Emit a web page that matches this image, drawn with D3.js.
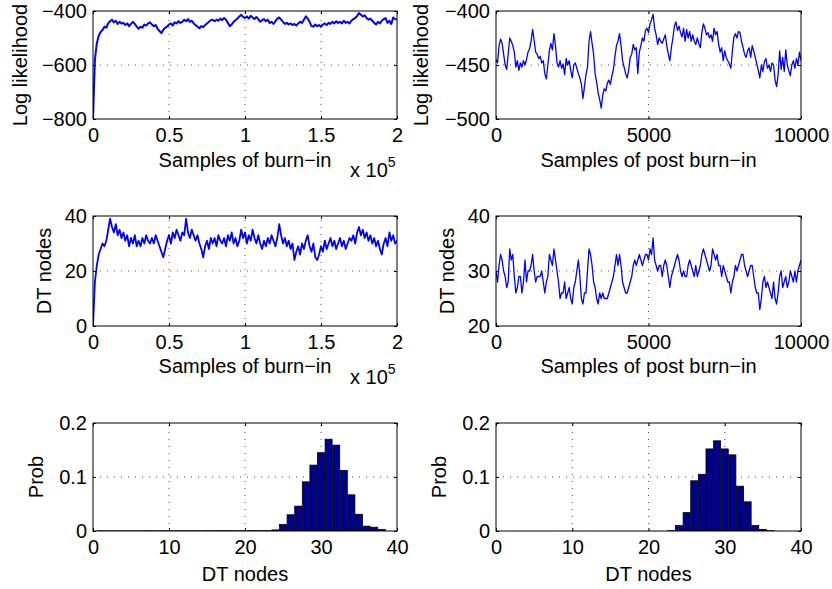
<!DOCTYPE html>
<html><head><meta charset="utf-8">
<script src="https://cdn.jsdelivr.net/npm/d3@7"></script>
<style>
body{margin:0;background:#fff}
svg text{font-family:"Liberation Sans",Arial,Helvetica,sans-serif;fill:#000}
</style>
</head><body>
<svg id="chart" width="832" height="589"></svg>
<script>
// ---------------- DATA ----------------
const burnStep = 1250;   // samples between stored burn-in points
const burnLogLik = [
-800,-580,-520,-492,-478,-470,-458,-462,
-446,-438,-432,-442,-436,-448,-440,-446,
-444,-452,-446,-456,-448,-440,-448,-458,
-466,-458,-462,-450,-454,-446,-442,-450,
-456,-452,-466,-474,-482,-470,-462,-458,
-450,-446,-454,-442,-446,-438,-444,-440,
-432,-438,-430,-440,-436,-446,-452,-458,
-464,-456,-460,-452,-446,-440,-434,-432,
-438,-432,-436,-428,-434,-426,-432,-444,
-456,-450,-440,-434,-428,-420,-414,-422,
-426,-420,-428,-418,-424,-430,-422,-430,
-440,-434,-430,-438,-432,-444,-440,-448,
-438,-428,-424,-432,-440,-448,-444,-450,
-446,-452,-448,-454,-446,-440,-444,-432,
-420,-428,-440,-456,-458,-450,-456,-452,
-458,-450,-446,-452,-444,-448,-440,-446,
-438,-444,-440,-446,-436,-444,-440,-446,
-436,-430,-426,-418,-408,-414,-420,-416,
-426,-432,-428,-436,-444,-450,-440,-446,
-436,-430,-426,-444,-436,-448,-424,-430,-432
];
const burnNodes = [
0,16,22,26,28,30,29,31,
35,39,36,34,37,33,35,32,
34,31,33,29,32,30,33,29,
31,29,32,30,33,31,30,32,
30,33,31,29,27,25,28,31,
33,30,34,32,35,33,31,34,
33,39,34,32,35,33,31,33,
30,28,25,29,31,28,32,30,
32,29,33,31,30,32,29,33,
31,34,30,32,29,31,35,32,
34,30,33,31,35,32,30,33,
30,28,31,29,32,30,33,31,
29,32,37,33,30,32,29,31,
28,30,24,27,29,26,30,28,
31,33,29,27,30,25,24,26,
29,27,31,28,30,32,29,31,
28,30,32,29,31,28,30,32,
31,33,30,34,36,33,35,32,
34,31,33,30,32,29,31,28,
26,30,32,29,34,31,33,30,31
];
const postStep = 50;     // samples between stored post burn-in points
const postLogLik = [
-445,-448,-432,-426,-430,-440,-450,-454,-440,-425,
-428,-432,-438,-452,-446,-455,-448,-452,-446,-450,
-445,-438,-435,-428,-417,-427,-438,-440,-444,-442,
-448,-446,-458,-463,-450,-437,-430,-436,-421,-432,
-448,-452,-446,-453,-449,-459,-444,-450,-446,-455,
-462,-450,-448,-453,-458,-462,-468,-481,-470,-459,
-452,-428,-419,-430,-440,-458,-466,-476,-482,-490,
-478,-472,-474,-467,-464,-468,-460,-454,-442,-432,
-428,-421,-432,-446,-452,-458,-462,-455,-443,-440,
-431,-436,-434,-458,-438,-432,-425,-428,-418,-416,
-420,-412,-408,-403,-416,-422,-431,-425,-428,-430,
-426,-422,-432,-440,-446,-434,-425,-414,-410,-418,
-414,-420,-424,-416,-428,-417,-425,-419,-428,-422,
-428,-431,-425,-430,-434,-420,-412,-416,-422,-420,
-425,-422,-428,-416,-422,-419,-431,-438,-434,-446,
-437,-443,-446,-449,-453,-437,-424,-421,-425,-419,
-420,-428,-434,-440,-443,-437,-434,-443,-432,-437,
-443,-449,-455,-462,-450,-456,-447,-444,-453,-450,
-456,-448,-450,-464,-470,-459,-437,-454,-443,-456,
-436,-450,-455,-460,-450,-446,-453,-444,-450,-438,
-446
];
const postNodes = [
30,28,31,33,32,30,29,27,28,34,
32,33,29,26,27,29,29,26,28,32,
28,30,30,31,33,30,28,29,29,29,
30,28,26,28,29,33,32,31,34,32,
30,28,25,26,26,28,25,26,27,25,
24,27,28,30,32,29,25,24,26,26,
30,34,33,31,28,27,25,24,26,25,
26,25,25,25,26,27,28,29,31,33,
31,33,31,28,27,26,26,27,28,29,
31,32,31,32,33,32,31,32,33,33,
32,34,33,36,32,31,30,31,31,29,
31,32,31,29,27,29,30,31,32,33,
32,30,29,30,29,29,31,32,31,30,
29,31,29,30,31,33,34,33,32,31,
30,31,34,33,32,33,31,31,29,31,
30,29,28,28,26,28,29,31,30,31,
32,33,33,31,30,29,30,31,31,29,
27,26,26,23,25,28,29,27,28,27,
26,25,28,25,24,26,29,30,27,28,
29,27,28,30,29,28,30,28,30,31,
32
];
const histBinsA = [1,2,3,4,5,6,7,8,9,10,11,12,13,14,15,16,17,18,19,20,21,22,23,24,25,26,27,28,29,30,31,32,33,34,35,36,37,38];
const histProbA = [0.0003,0.0002,0.0002,0.0002,0.0002,0.0002,0.0003,0.0002,0.0003,0.0004,0.0003,0.0003,0.0003,0.0003,0.0004,0.0004,0.0005,0.0004,0.0004,0.0005,0.0006,0.0005,0.0006,
                   0.002,0.012,0.030,0.046,0.091,0.122,0.145,0.170,0.159,0.112,0.067,0.031,0.009,0.007,0.003];
const histBinsB = [20,21,22,23,24,25,26,27,28,29,30,31,32,33,34,35,36,37];
const histProbB = [0,0,0,0.0005,0.010,0.034,0.093,0.105,0.152,0.167,0.152,0.141,0.083,0.054,0.010,0.003,0.0005,0];

const burnTicks = [0,50000,100000,150000,200000];
const postTicks = [0,5000,10000];
const llBurnTicks = [-800,-600,-400];
const llPostTicks = [-500,-450,-400];
const nodesBurnTicks = [0,20,40];
const nodesPostTicks = [20,30,40];
const histXTicks = [0,10,20,30,40];
const histYTicks = [0,0.1,0.2];

// ---------------- LAYOUT ----------------
const svg = d3.select("#chart");
const cols = [{l:93,r:397},{l:496,r:801}];
const rows = [{t:11,b:119},{t:216,b:326},{t:423,b:531}];
const FONT = 20, LFONT = 20;
let clipId = 0;

function panel(o){
  const c = cols[o.col], r = rows[o.row];
  const x = d3.scaleLinear().domain(o.xDomain).range([c.l,c.r]);
  const y = d3.scaleLinear().domain(o.yDomain).range([r.b,r.t]);
  const g = svg.append("g");
  const id = "clip"+(clipId++);
  svg.append("clipPath").attr("id",id).append("rect")
    .attr("x",c.l).attr("y",r.t).attr("width",c.r-c.l).attr("height",r.b-r.t);

  // grid (dotted)
  const grid = g.append("g").attr("stroke","#000").attr("stroke-width",0.8)
     .attr("stroke-dasharray","1,6").attr("opacity",0.85);
  o.xTicks.forEach(t=>{ if(x(t)>c.l+1 && x(t)<c.r-1)
     grid.append("line").attr("x1",x(t)).attr("x2",x(t)).attr("y1",r.b).attr("y2",r.t);});
  o.yTicks.forEach(t=>{ if(y(t)<r.b-1 && y(t)>r.t+1)
     grid.append("line").attr("x1",c.l).attr("x2",c.r).attr("y1",y(t)).attr("y2",y(t));});

  const dg = g.append("g").attr("clip-path","url(#"+id+")");
  if(o.type==="line"){
    const line = d3.line().x((d,i)=>x(i*o.step)).y(d=>y(d));
    dg.append("path").datum(o.values).attr("d",line)
      .attr("fill","none").attr("stroke","#0000ff").attr("stroke-width",o.sw)
      .attr("stroke-linejoin","round");
  } else {
    dg.selectAll("rect").data(o.bins).join("rect")
      .attr("x",b=>x(b-0.46)).attr("width",b=>x(b+0.46)-x(b-0.46))
      .attr("y",(b,i)=>y(o.values[i])).attr("height",(b,i)=>y(0)-y(o.values[i]))
      .attr("fill","#00008f").attr("stroke","#000").attr("stroke-width",0.8);
  }

  // axes
  const ax = d3.axisBottom(x).tickValues(o.xTicks).tickSize(-3).tickPadding(9).tickFormat(o.xFmt);
  const axg = g.append("g").attr("transform",`translate(0,${r.b})`).call(ax);
  const axt = d3.axisTop(x).tickValues(o.xTicks).tickSize(-3).tickFormat("");
  const axtg = g.append("g").attr("transform",`translate(0,${r.t})`).call(axt);
  const ay = d3.axisLeft(y).tickValues(o.yTicks).tickSize(-3).tickPadding(6).tickFormat(o.yFmt);
  const ayg = g.append("g").attr("transform",`translate(${c.l},0)`).call(ay);
  const ayr = d3.axisRight(y).tickValues(o.yTicks).tickSize(-3).tickFormat("");
  const ayrg = g.append("g").attr("transform",`translate(${c.r},0)`).call(ayr);
  [axg,axtg,ayg,ayrg].forEach(a=>{
    a.attr("font-size",FONT).attr("font-family",null);
    a.select(".domain").remove();
    a.selectAll("line").attr("stroke","#000");
  });

  // frame
  g.append("rect").attr("x",c.l).attr("y",r.t).attr("width",c.r-c.l).attr("height",r.b-r.t)
    .attr("fill","none").attr("stroke","#000").attr("stroke-width",1);

  // labels
  g.append("text").attr("x",(c.l+c.r)/2).attr("y",r.b+o.xlabOff)
    .attr("text-anchor","middle").attr("font-size",LFONT).text(o.xlabel);
  g.append("text").attr("transform",`translate(${c.l-o.ylabOff},${(r.t+r.b)/2}) rotate(-90)`)
    .attr("text-anchor","middle").attr("font-size",LFONT).text(o.ylabel);
  if(o.exp){
    const t = g.append("text").attr("x",c.r-47).attr("y",r.b+58).attr("font-size",FONT);
    t.append("tspan").text("x 10");
    t.append("tspan").attr("dy",-10).attr("font-size",14).text("5");
  }
}

const burnFmt = d=>String(d/1e5);
const intFmt = d=>d3.format("d")(d);
const probFmt = d=> d===0 ? "0" : d3.format(".1f")(d);

panel({col:0,row:0,type:"line",values:burnLogLik,step:burnStep,xDomain:[0,200000],yDomain:[-800,-400],sw:2,
  xTicks:burnTicks,yTicks:llBurnTicks,xFmt:burnFmt,yFmt:intFmt,xlabel:"Samples of burn\u2212in",ylabel:"Log likelihood",
  xlabOff:48,ylabOff:66,exp:true});
panel({col:1,row:0,type:"line",values:postLogLik,step:postStep,xDomain:[0,10000],yDomain:[-500,-400],sw:1.3,
  xTicks:postTicks,yTicks:llPostTicks,xFmt:intFmt,yFmt:intFmt,xlabel:"Samples of post burn\u2212in",ylabel:"Log likelihood",
  xlabOff:48,ylabOff:68,exp:false});
panel({col:0,row:1,type:"line",values:burnNodes,step:burnStep,xDomain:[0,200000],yDomain:[0,40],sw:1.8,
  xTicks:burnTicks,yTicks:nodesBurnTicks,xFmt:burnFmt,yFmt:intFmt,xlabel:"Samples of burn\u2212in",ylabel:"DT nodes",
  xlabOff:47,ylabOff:42,exp:true});
panel({col:1,row:1,type:"line",values:postNodes,step:postStep,xDomain:[0,10000],yDomain:[20,40],sw:1.3,
  xTicks:postTicks,yTicks:nodesPostTicks,xFmt:intFmt,yFmt:intFmt,xlabel:"Samples of post burn\u2212in",ylabel:"DT nodes",
  xlabOff:47,ylabOff:42,exp:false});
panel({col:0,row:2,type:"bar",bins:histBinsA,values:histProbA,xDomain:[0,40],yDomain:[0,0.2],
  xTicks:histXTicks,yTicks:histYTicks,xFmt:intFmt,yFmt:probFmt,xlabel:"DT nodes",ylabel:"Prob",
  xlabOff:50,ylabOff:50,exp:false});
panel({col:1,row:2,type:"bar",bins:histBinsB,values:histProbB,xDomain:[0,40],yDomain:[0,0.2],
  xTicks:histXTicks,yTicks:histYTicks,xFmt:intFmt,yFmt:probFmt,xlabel:"DT nodes",ylabel:"Prob",
  xlabOff:50,ylabOff:50,exp:false});
</script>
</body></html>
